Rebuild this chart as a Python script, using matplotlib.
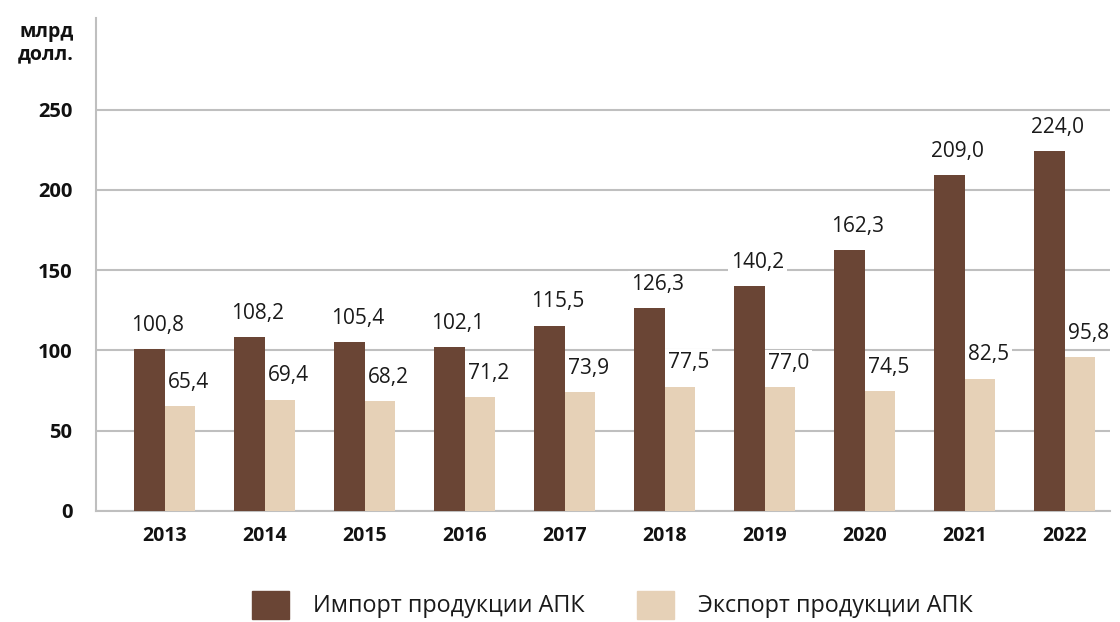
import numpy as np
import matplotlib.pyplot as plt
from matplotlib.patches import Patch

plt.rcParams['font.family'] = ['Open Sans', 'DejaVu Sans']

years = ['2013', '2014', '2015', '2016', '2017', '2018', '2019', '2020', '2021', '2022']
imports = [100.8, 108.2, 105.4, 102.1, 115.5, 126.3, 140.2, 162.3, 209.0, 224.0]
exports = [65.4, 69.4, 68.2, 71.2, 73.9, 77.5, 77.0, 74.5, 82.5, 95.8]

c_imp = '#6a4535'
c_exp = '#e6d1b7'
grid_c = '#bfbfbf'

fig = plt.figure(figsize=(11.2, 6.22), dpi=100)
ax = fig.add_axes([0.0857, 0.1785, 0.905, 0.7925])

x = np.arange(len(years))
w = 0.305
b1 = ax.bar(x - w / 2, imports, w, color=c_imp, zorder=3)
b2 = ax.bar(x + w / 2, exports, w, color=c_exp, zorder=3)

# value labels above each bar, comma as decimal separator;
# white box hides the grid line but stays behind the bars
for bars, vals in ((b1, imports), (b2, exports)):
    for rect, v in zip(bars, vals):
        ax.annotate(f'{v:.1f}'.replace('.', ','),
                    (rect.get_x() + rect.get_width() / 2, rect.get_height()),
                    xytext=(6, 17), textcoords='offset points',
                    ha='center', va='center', fontsize=15, color='#1a1a1a',
                    bbox=dict(boxstyle='square,pad=0.15', fc='white', ec='none'),
                    zorder=2)

ax.set_xlim(-0.69, 9.45)
ax.set_ylim(0, 307)
ax.set_yticks([0, 50, 100, 150, 200, 250])
ax.yaxis.grid(True, color=grid_c, linewidth=1.5, zorder=0)
ax.set_axisbelow(True)
ax.set_xticks(x)
ax.set_xticklabels(years, fontsize=14, fontweight='bold')
for lbl in ax.get_yticklabels():
    lbl.set_fontsize(14.5)
    lbl.set_fontweight('bold')
ax.tick_params(length=0, pad=17, colors='#111111')
ax.tick_params(axis='x', pad=11)

for s in ('top', 'right'):
    ax.spines[s].set_visible(False)
for s in ('left', 'bottom'):
    ax.spines[s].set_color(grid_c)
    ax.spines[s].set_linewidth(1.5)

fig.text(0.066, 0.965, 'млрд\nдолл.', ha='right', va='top', color='#111111',
         fontsize=14, fontweight='bold', linespacing=1.15)

handles = [Patch(color=c_imp), Patch(color=c_exp)]
fig.legend(handles, ['Импорт продукции АПК', 'Экспорт продукции АПК'],
           loc='center', bbox_to_anchor=(0.547, 0.028), ncol=2, frameon=False,
           fontsize=16.8, handlelength=1.59, handleheight=1.46,
           handletextpad=1.03, columnspacing=2.23, labelcolor='#1a1a1a')

fig.savefig('out.png', dpi=100)
